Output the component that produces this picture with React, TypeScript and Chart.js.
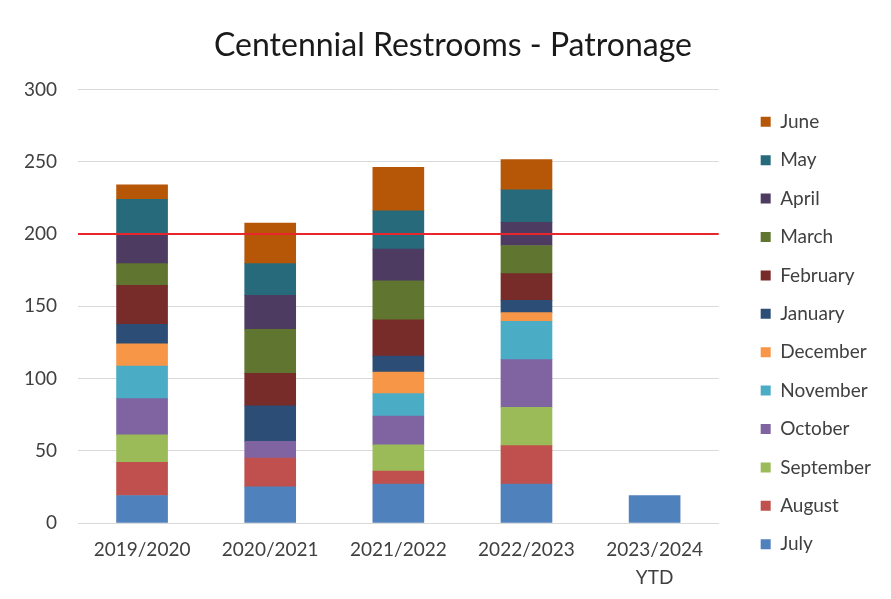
import React, { useEffect, useRef } from "react";
import { Chart, registerables } from "chart.js";

Chart.register(...registerables);

const categories: (string | string[])[] = ["2019/2020", "2020/2021", "2021/2022", "2022/2023", ["2023/2024", "YTD"]];

const july = [19, 25, 27, 27, 19];
const august = [23, 20, 9, 26.5, null];
const september = [19, null, 18, 26.5, null];
const october = [25, 11.5, 20, 33, null];
const november = [22.5, null, 15.5, 26.5, null];
const december = [15.5, null, 15, 6, null];
const january = [13.5, 24.5, 11, 8.5, null];
const february = [27, 22.5, 25, 18.5, null];
const march = [15, 30.5, 27, 19.5, null];
const april = [20.5, 23.5, 22, 16, null];
const may = [24, 22, 26.5, 22.5, null];
const june = [10, 28, 30, 21, null];

const target = 200;

const series = [
  { label: "July", data: july, color: "#4F81BD" },
  { label: "August", data: august, color: "#C0504D" },
  { label: "September", data: september, color: "#9BBB59" },
  { label: "October", data: october, color: "#8064A2" },
  { label: "November", data: november, color: "#4BACC6" },
  { label: "December", data: december, color: "#F79646" },
  { label: "January", data: january, color: "#2C4D75" },
  { label: "February", data: february, color: "#772C2A" },
  { label: "March", data: march, color: "#5F7530" },
  { label: "April", data: april, color: "#4D3B62" },
  { label: "May", data: may, color: "#276A7C" },
  { label: "June", data: june, color: "#B65708" },
];

const targetLine = {
  id: "targetLine",
  afterDatasetsDraw(chart: any) {
    const { ctx, chartArea, scales } = chart;
    const y = scales.y.getPixelForValue(target);
    ctx.save();
    ctx.strokeStyle = "#E8262B";
    ctx.lineWidth = 2;
    ctx.beginPath();
    ctx.moveTo(chartArea.left, y);
    ctx.lineTo(chartArea.right, y);
    ctx.stroke();
    ctx.restore();
  },
};

export default function App() {
  const ref = useRef<HTMLCanvasElement>(null);
  useEffect(() => {
    if (!ref.current) return;
    const font = "Lato, 'Open Sans', sans-serif";
    const chart = new Chart(ref.current, {
      type: "bar",
      data: {
        labels: categories as any,
        datasets: series.map((s) => ({
          label: s.label,
          data: s.data as any,
          backgroundColor: s.color,
          borderWidth: 0,
          barThickness: 51,
          yAxisID: "y",
        })),
      },
      plugins: [targetLine],
      options: {
        animation: false,
        responsive: false,
        layout: { padding: { left: 17, right: 2, top: 0, bottom: 0 } },
        plugins: {
          title: {
            display: true,
            text: "Centennial Restrooms - Patronage",
            font: { family: font, size: 32, weight: "normal" },
            color: "#1a1a1a",
            padding: { top: 18, bottom: 25 },
          },
          legend: {
            position: "right",
            reverse: true,
            title: { display: true, text: "", font: { size: 10 }, padding: { top: 55, bottom: 0 } },
            labels: {
              boxWidth: 10,
              boxHeight: 10,
              padding: 19.4,
              font: { family: font, size: 19 },
              color: "#404040",
            },
          },
          tooltip: { enabled: false },
        },
        scales: {
          x: {
            stacked: true,
            grid: { display: false, drawTicks: false },
            border: { color: "#d9d9d9" },
            ticks: { font: { family: font, size: 19, lineHeight: 1.47 }, color: "#404040", padding: 13 },
            afterFit: (s: any) => {
              s.height = 68;
            },
          },
          y: {
            stacked: true,
            min: 0,
            max: 300,
            ticks: { stepSize: 50, font: { family: font, size: 19 }, color: "#404040", padding: 21 },
            grid: { color: "#d9d9d9", drawTicks: false },
            border: { display: false },
            afterFit: (s: any) => {
              s.width = 53;
            },
          },
          y2: {
            position: "right",
            display: true,
            grid: { display: false },
            ticks: { display: false },
            border: { display: false },
            afterFit: (s: any) => {
              s.width = 22.6;
            },
          },
        },
      },
    });
    return () => chart.destroy();
  }, []);
  return (
    <div style={{ width: 875, height: 583, position: "relative" }}>
      <div
        style={{
          position: "absolute",
          left: -2,
          top: -4,
          width: 880,
          height: 590,
          borderLeft: "2px solid #ececec",
          borderTop: "2px solid #ececec",
          pointerEvents: "none",
        }}
      />
      <canvas ref={ref} width={875} height={583} style={{ display: "block" }} />
    </div>
  );
}
